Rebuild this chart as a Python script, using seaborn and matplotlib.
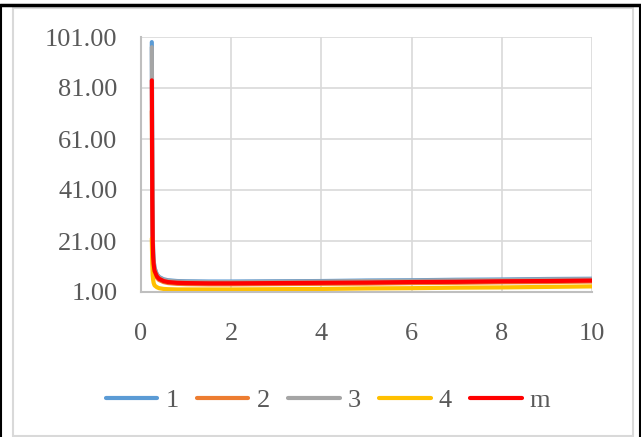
import numpy as np
import pandas as pd
import seaborn as sns
import matplotlib.pyplot as plt
from matplotlib.patches import Rectangle
from matplotlib.lines import Line2D

# Sample positions along the horizontal axis
x = [0.24, 0.25, 0.26, 0.27, 0.28, 0.30, 0.35, 0.40, 0.50, 0.60, 0.80,
     1.0, 1.5, 2.0, 3.0, 4.0, 5.0, 6.0, 7.0, 8.0, 9.0, 10.0]

# Series values
s1 = [99.0, 45.0, 24.0, 16.5, 13.5, 10.5, 8.0, 6.9, 6.0, 5.6, 5.3,
      5.2, 5.1, 5.1, 5.2, 5.3, 5.5, 5.6, 5.8, 5.9, 6.1, 6.2]
s2 = [72.0, 33.0, 18.0, 12.5, 10.5, 8.4, 6.6, 5.7, 4.9, 4.5, 4.2,
      4.1, 4.0, 4.0, 4.1, 4.2, 4.3, 4.5, 4.6, 4.8, 4.9, 5.1]
s3 = [97.0, 44.0, 23.5, 16.0, 13.2, 10.3, 7.8, 6.7, 5.8, 5.4, 5.1,
      5.0, 4.9, 4.9, 5.0, 5.1, 5.3, 5.4, 5.6, 5.7, 5.9, 6.0]
s4 = [22.0, 12.0, 7.5, 5.7, 4.6, 3.6, 2.9, 2.5, 2.2, 2.1, 2.0,
      2.0, 2.0, 2.0, 2.1, 2.2, 2.4, 2.5, 2.7, 2.8, 3.0, 3.2]
sm = [84.0, 38.0, 21.0, 14.5, 12.0, 9.3, 7.2, 6.2, 5.3, 4.9, 4.6,
      4.5, 4.4, 4.4, 4.5, 4.6, 4.7, 4.9, 5.0, 5.2, 5.3, 5.5]

series_names = ["1", "2", "3", "4", "m"]
colors = ["#5B9BD5", "#ED7D31", "#A5A5A5", "#FFC000", "#FF0000"]
y_ticks = [1, 21, 41, 61, 81, 101]
x_ticks = [0, 2, 4, 6, 8, 10]

df = pd.concat(
    [pd.DataFrame({"x": x, "y": v, "series": n})
     for n, v in zip(series_names, [s1, s2, s3, s4, sm])],
    ignore_index=True,
)

sns.set_style("white")
plt.rcParams["font.family"] = ["Liberation Serif", "DejaVu Serif"]

fig = plt.figure(figsize=(6.41, 4.37), dpi=100)
ax = fig.add_axes([141 / 641, 1 - 292 / 437, (592 - 141) / 641, (292 - 37) / 437])

sns.lineplot(data=df, x="x", y="y", hue="series", hue_order=series_names,
             palette=colors, linewidth=3.0, ax=ax, legend=False,
             estimator=None, sort=False)
for ln in ax.lines:
    ln.set_solid_capstyle("round")

ax.set_xlim(0, 10)
ax.set_ylim(1, 101)
ax.set_xticks(x_ticks)
ax.set_yticks(y_ticks)
ax.set_yticklabels([f"{v:.2f}" for v in y_ticks])
ax.set_xlabel("")
ax.set_ylabel("")
ax.grid(True, color="#D9D9D9", linewidth=1.2)
ax.set_axisbelow(True)
for side in ["top", "right"]:
    ax.spines[side].set_visible(False)
for side in ["left", "bottom"]:
    ax.spines[side].set_color("#BFBFBF")
    ax.spines[side].set_linewidth(1.5)
ax.tick_params(axis="both", length=0, labelsize=19, labelcolor="#595959")
ax.tick_params(axis="y", pad=17)
ax.tick_params(axis="x", pad=22)

handles = [Line2D([0], [0], color=c, linewidth=3.0, solid_capstyle="round")
           for c in colors]
fig.legend(handles, series_names, loc="center", bbox_to_anchor=(328 / 641, 1 - 400 / 437),
           ncol=5, frameon=False, fontsize=19, handlelength=1.95,
           handletextpad=0.3, columnspacing=0.7, labelcolor="#595959")

# Outer frame of the chart area and the page edges
fig.patches.append(Rectangle((13 / 641, 1 - 436 / 437), 620 / 641, 428 / 437,
                             transform=fig.transFigure, fill=False,
                             edgecolor="#D9D9D9", linewidth=1.5))
fig.add_artist(Line2D([0, 1], [1 - 4.5 / 437, 1 - 4.5 / 437], transform=fig.transFigure,
                      color="black", linewidth=2.5))
fig.add_artist(Line2D([0.5 / 641, 0.5 / 641], [0, 1 - 4.5 / 437], transform=fig.transFigure,
                      color="black", linewidth=1.5))
fig.add_artist(Line2D([640 / 641, 640 / 641], [0, 1 - 4.5 / 437], transform=fig.transFigure,
                      color="black", linewidth=1.5))

fig.savefig("out.png", dpi=100)
